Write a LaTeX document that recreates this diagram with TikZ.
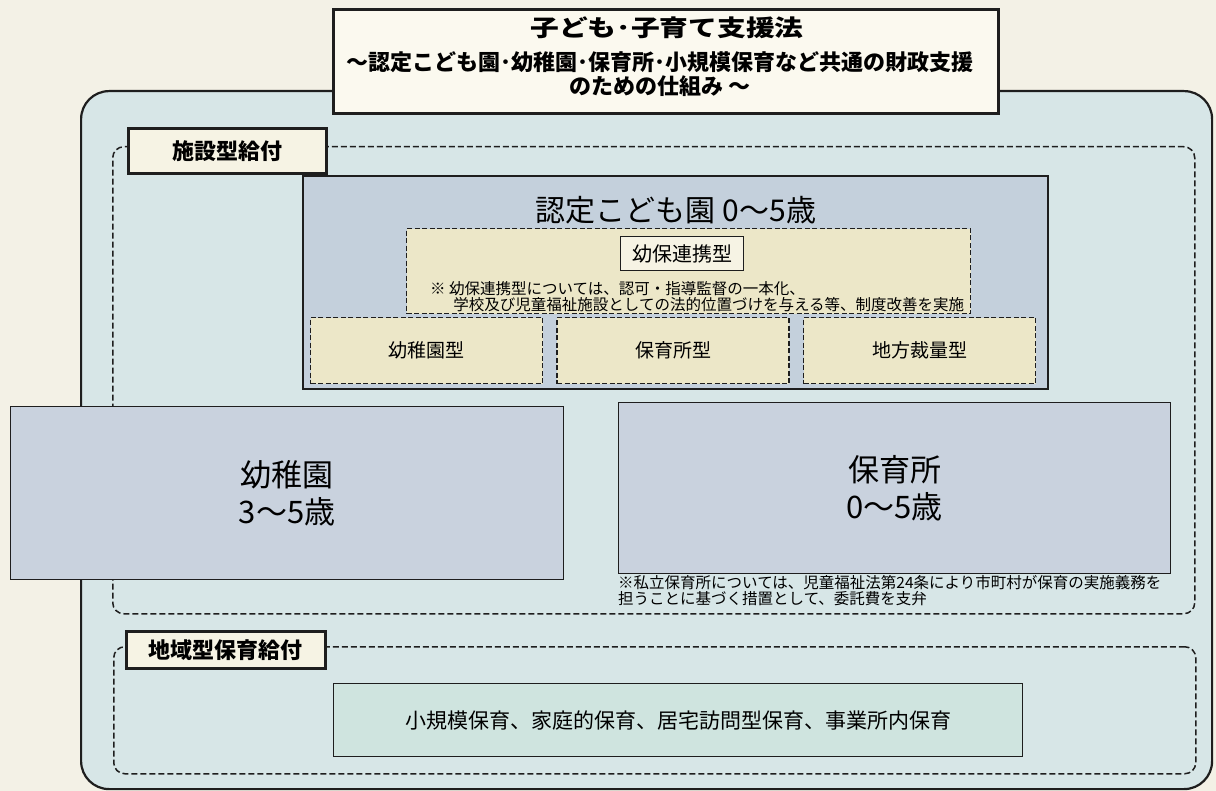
\documentclass[tikz,border=0pt]{standalone}
\usepackage{fontspec}
\setmainfont{Noto Sans CJK JP}
\newfontfamily\widejp{Noto Sans CJK JP}[FakeStretch=1.25]
\usetikzlibrary{positioning}

\definecolor{paper}{HTML}{F3F1E6}
\definecolor{ink}{HTML}{1E1E1E}
\definecolor{outerfill}{HTML}{D7E6E7}
\definecolor{titlefill}{HTML}{FBF9EF}
\definecolor{tagfill}{HTML}{F6F3E4}
\definecolor{nintei}{HTML}{C4D0DC}
\definecolor{cream}{HTML}{ECE7C8}
\definecolor{kinder}{HTML}{C9D2DE}
\definecolor{smallfill}{HTML}{CFE4DF}

\newcommand\fsz[2]{\fontsize{#1}{#2}\selectfont}

\tikzset{
	box/.style={draw=ink, line width=1.3pt, anchor=north west, inner sep=0pt, align=center},
	tagbox/.style={box, fill=tagfill, line width=2.8pt, font=\bfseries\fsz{22}{26}},
	area/.style={box, dash pattern=on 6pt off 3pt, line width=1.5pt, rounded corners=11pt},
	kind/.style={box, fill=cream, dash pattern=on 5pt off 2.5pt, line width=1.4pt,
		minimum width=232pt, minimum height=66pt, font=\fsz{19}{22}},
	note/.style={anchor=north west, inner sep=0pt, align=left, font=\fsz{15.5}{16}},
}

\begin{document}
\begin{tikzpicture}[x=1pt, y=-1pt]
	\fill[paper] (0,0) rectangle (1216,791);
	\useasboundingbox (0,0) rectangle (1216,791);

	% frame and title
	\node[box, fill=outerfill, line width=2.2pt, rounded corners=28pt,
		minimum width=1131pt, minimum height=698pt] (outer) at (80,90) {};
	\node[box, fill=titlefill, line width=3pt, minimum width=665pt, minimum height=104pt] (title) at (332,8) {};
	\node[font=\widejp\bfseries\fsz{23}{26}] (law) at (667,28) {子ども･子育て支援法};
	\node[font=\bfseries\fsz{22}{24}, align=center] (aim) at (660,74)
		{〜認定こども園･幼稚園･保育所･小規模保育など共通の財政支援\\のための仕組み 〜};

	% benefit areas
	\node[area, minimum width=1082pt, minimum height=467pt] (facility) at (112,146) {};
	\node[area, minimum width=1082pt, minimum height=127pt] (local) at (113,646) {};
	\node[tagbox, minimum width=198pt, minimum height=45pt] (facilitytag) at (127,127) {施設型給付};
	\node[tagbox, minimum width=199pt, minimum height=37pt] (localtag) at (125,630) {地域型保育給付};

	% nintei kodomoen
	\node[box, fill=nintei, line width=1.6pt, minimum width=745pt, minimum height=213pt] (nintei) at (302,175) {};
	\node[font=\fsz{30}{32}] (nintitle) at (676,210) {認定こども園 0〜5歳};
	\node[kind, minimum width=564pt, minimum height=85pt] (renkei) at (406,228) {};
	\node[box, fill=tagfill, minimum width=123pt, minimum height=34pt, font=\fsz{20}{22}] (renkeitag) at (620,236) {幼保連携型};
	\node[note] (renkeinote) at (430,281)
		{※ 幼保連携型については、認可・指導監督の一本化、\\\hspace*{1.5em}学校及び児童福祉施設としての法的位置づけを与える等、制度改善を実施};
	\node[kind] (youtype) at (310,317) {幼稚園型};
	\node[kind, right=13pt of youtype] (hotype) {保育所型};
	\node[kind, right=13pt of hotype] (chitype) {地方裁量型};

	% kindergarten and nursery
	\node[box, fill=kinder, minimum width=553pt, minimum height=173pt, font=\fsz{31}{37}] (kinder) at (10,406) {幼稚園\\3〜5歳};
	\node[box, fill=kinder, minimum width=552pt, minimum height=171pt, font=\fsz{31}{37}] (nursery) at (618,402) {保育所\\0〜5歳};
	\node[note] (nurserynote) at (618,575)
		{※私立保育所については、児童福祉法第24条により市町村が保育の実施義務を\\担うことに基づく措置として、委託費を支弁};

	% community care
	\node[box, fill=smallfill, minimum width=689pt, minimum height=73pt, font=\fsz{21}{24}] (small) at (333,683)
		{小規模保育、家庭的保育、居宅訪問型保育、事業所内保育};
\end{tikzpicture}
\end{document}
